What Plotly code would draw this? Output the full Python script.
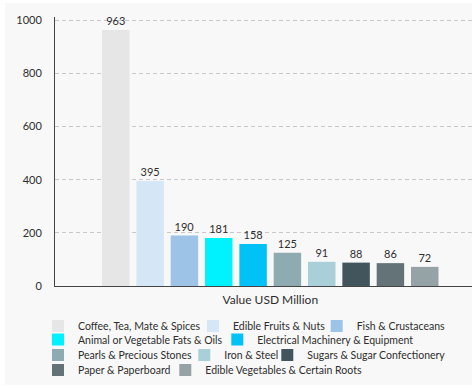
import plotly.graph_objects as go

category = ["Value USD Million"]
products = [
    "Coffee, Tea, Mate & Spices",
    "Edible Fruits & Nuts",
    "Fish & Crustaceans",
    "Animal or Vegetable Fats & Oils",
    "Electrical Machinery & Equipment",
    "Pearls & Precious Stones",
    "Iron & Steel",
    "Sugars & Sugar Confectionery",
    "Paper & Paperboard",
    "Edible Vegetables & Certain Roots",
]
values = [963, 395, 190, 181, 158, 125, 91, 88, 86, 72]
colors = ["#e6e6e6", "#d5e6f6", "#9dc3e6", "#00f2fe", "#00c2f7",
          "#8fabb2", "#a9d0d8", "#42555c", "#647378", "#95a3a6"]
y_ticks = [0, 200, 400, 600, 800, 1000]

# legend entry placement (label left edge x, row centre y), in pixels
legend_text_x = [78, 233, 356.7, 78, 257.3, 78, 224.3, 307.3, 78, 205.3]
legend_row_y = [326, 326, 326, 339.5, 339.5, 355, 355, 355, 370, 370]

FONT = "Lato, 'Open Sans', sans-serif"
TXT = "#2e2e2e"

L, R, T, B = 55, 2, 17, 102
W, H = 474, 388
pw = W - L - R
ph = H - T - B


def px_x(p):
    return (p - L) / pw


def px_y(p):
    return (H - B - p) / ph


fig = go.Figure()
legends = {}
for i, (name, v, c) in enumerate(zip(products, values, colors)):
    lg = "legend" if i == 0 else f"legend{i + 1}"
    fig.add_trace(go.Bar(
        x=category, y=[v], name=name, marker=dict(color=c, line=dict(width=0)),
        text=[str(v)], textposition="outside", cliponaxis=False,
        textfont=dict(family=FONT, size=11, color=TXT),
        legend=lg, showlegend=True,
    ))
    legends[lg] = dict(
        orientation="h", xanchor="left", yanchor="middle",
        x=px_x(legend_text_x[i] - 40), y=px_y(legend_row_y[i]),
        font=dict(family=FONT, size=10.5, color=TXT),
        bgcolor="rgba(0,0,0,0)", itemwidth=30, visible=True,
    )

fig.update_layout(
    width=W, height=H,
    margin=dict(l=L, r=R, t=T, b=B, autoexpand=False),
    paper_bgcolor="white",
    plot_bgcolor="rgba(0,0,0,0)",
    showlegend=True,
    barmode="group", bargap=0.1767, bargroupgap=0.2,
    font=dict(family=FONT, size=11, color=TXT),
    xaxis=dict(range=[-0.5162, 0.4838], showline=True, linecolor="#444444",
               linewidth=1, showgrid=False, ticks="", ticklabelstandoff=3,
               tickfont=dict(family=FONT, size=12, color=TXT)),
    yaxis=dict(range=[0, 1012], tickvals=y_ticks, showline=True,
               linecolor="#444444", linewidth=1, showgrid=True,
               gridcolor="#c8c8c8", griddash="4px,3px", gridwidth=1,
               zeroline=False, ticks="", ticklen=0, ticklabelstandoff=10,
               tickfont=dict(family=FONT, size=11, color=TXT)),
    shapes=[dict(type="rect", xref="paper", yref="paper",
                 x0=px_x(5), x1=px_x(472), y0=px_y(385), y1=px_y(3),
                 fillcolor="#f8f8f8", line=dict(width=0), layer="below")],
    **legends,
)

fig.write_html("out.html",
               config={"displayModeBar": False},
               post_script="document.body.style.margin='0';"
                           "document.body.style.overflow='hidden';")
